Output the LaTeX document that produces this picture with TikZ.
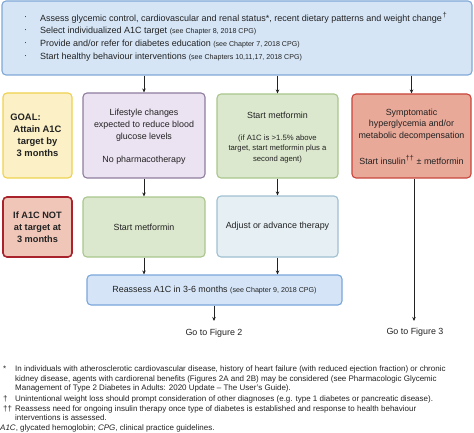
\documentclass[tikz,border=0pt]{standalone}
\usepackage{fontspec}
\setmainfont{Liberation Sans}
\usetikzlibrary{arrows.meta}
\definecolor{txt}{HTML}{222222}
\definecolor{topfill}{HTML}{D5E5F6}\definecolor{topdraw}{HTML}{7FA7D6}
\definecolor{goalfill}{HTML}{FBF0C6}\definecolor{goaldraw}{HTML}{EED24E}
\definecolor{lifefill}{HTML}{ECE3F2}\definecolor{lifedraw}{HTML}{8E7D9C}
\definecolor{greenfill}{HTML}{DCE8CE}\definecolor{greendraw}{HTML}{A8C68C}
\definecolor{symfill}{HTML}{E8A999}\definecolor{symdraw}{HTML}{C9443A}
\definecolor{notfill}{HTML}{EFC6B8}\definecolor{notdraw}{HTML}{A8232B}
\definecolor{adjfill}{HTML}{E6F0F4}\definecolor{adjdraw}{HTML}{9EC0D0}
\definecolor{reafill}{HTML}{D5E5F7}\definecolor{readraw}{HTML}{79A6DA}
\tikzset{
  box/.style={rectangle, rounded corners=4pt, line width=1.1pt, inner sep=0pt, align=center, text=txt, font=\fontsize{8.9}{12}\selectfont},
  conn/.style={draw=txt, line width=0.7pt, -{Stealth[length=4pt,width=3.5pt]}},
  plain/.style={inner sep=0pt, text=txt, anchor=west},
  fn/.style={inner sep=0pt, text=txt, anchor=west, font=\fontsize{8}{9}\selectfont},
  lbl/.style={inner sep=0pt, text=txt, font=\fontsize{8.9}{11}\selectfont},
}
\newcommand{\sm}[1]{{\fontsize{7.1}{8}\selectfont #1}}
\begin{document}
\begin{tikzpicture}[x=1pt,y=-1pt]
\useasboundingbox (0,0) rectangle (474,433);
% top box
\node[box, fill=topfill, draw=topdraw, minimum width=470pt, minimum height=74pt] (top) at (237,38) {};
\foreach \yy/\tt in {18/{Assess glycemic control, cardiovascular and renal status*, recent dietary patterns and weight change\textsuperscript{\,\sm{†}}},
  31/{Select individualized A1C target \sm{(see Chapter 8, 2018 CPG)}},
  44/{Provide and/or refer for diabetes education \sm{(see Chapter 7, 2018 CPG)}},
  57/{Start healthy behaviour interventions \sm{(see Chapters 10,11,17, 2018 CPG)}}}{
  \node[plain, font=\fontsize{9}{10}\selectfont] at (24,\yy) {·};
  \node[plain, font=\fontsize{9}{10}\selectfont] at (40,\yy) {\tt};
}
% row 1
\node[box, fill=goalfill, draw=goaldraw, minimum width=69pt, minimum height=85pt, font=\bfseries\fontsize{9.4}{12}\selectfont] (goal) at (37.5,135.5) {GOAL:\hspace*{24pt}\\Attain A1C\\target by\\3 months};
\node[box, fill=lifefill, draw=lifedraw, minimum width=122pt, minimum height=85pt] (life) at (144,135.5) {};
\node[inner sep=0pt, align=center, text=txt, font=\fontsize{8.9}{11.8}\selectfont] (lifet) at (144,125) {Lifestyle changes\\expected to reduce blood\\glucose levels};
\node[lbl] (lifen) at (144,160) {No pharmacotherapy};
\node[box, fill=greenfill, draw=greendraw, minimum width=121pt, minimum height=84pt] (met1) at (277.5,136) {};
\node[lbl] (met1t) at (277.5,115) {Start metformin};
\node[inner sep=0pt, align=center, text=txt, font=\fontsize{7.7}{10.5}\selectfont] (met1n) at (277.5,149) {(if A1C is >1.5\% above\\target, start metformin plus a\\second agent)};
\node[box, fill=symfill, draw=symdraw, minimum width=119pt, minimum height=84pt] (sym) at (411.5,136) {};
\node[inner sep=0pt, align=center, text=txt, font=\fontsize{8.9}{11.8}\selectfont] (symt) at (411.5,124.5) {Symptomatic\\hyperglycemia and/or\\metabolic decompensation};
\node[lbl] (symn) at (411.5,160) {Start insulin\textsuperscript{\sm{††}} ± metformin};
% row 2
\node[box, fill=notfill, draw=notdraw, line width=1.6pt, minimum width=69pt, minimum height=60pt, font=\bfseries\fontsize{9.2}{11.8}\selectfont] (notat) at (37.5,227) {If A1C NOT\\at target at\\3 months};
\node[box, fill=greenfill, draw=greendraw, minimum width=122pt, minimum height=60pt] (met2) at (144,227) {Start metformin};
\node[box, fill=adjfill, draw=adjdraw, minimum width=121pt, minimum height=61pt] (adj) at (277.5,226.5) {Adjust or advance therapy};
% reassess
\node[box, fill=reafill, draw=readraw, minimum width=255pt, minimum height=30pt] (rea) at (214.5,290) {Reassess A1C in 3-6 months \sm{(see Chapter 9, 2018 CPG)}};
\node[lbl] (fig2) at (214,333) {Go to Figure 2};
\node[lbl] (fig3) at (415,332) {Go to Figure 3};
\coordinate (e2) at (214,321);
\coordinate (e3) at (414,321);
% connectors
\draw[conn] (top.south -| life) -- (life.north);
\draw[conn] (top.south -| met1) -- (met1.north);
\draw[conn] (top.south -| sym) -- (sym.north);
\draw[conn] (life.south) -- (met2.north);
\draw[conn] (met1.south) -- (adj.north);
\draw[conn] (met2.south) -- (rea.north -| met2);
\draw[conn] (adj.south) -- (rea.north -| adj);
\draw[conn] (rea.south -| e2) -- (e2);
\draw[conn] (sym.south -| e3) -- (e3);
% footnotes
\node[fn] (f1s) at (3,369) {*};
\node[fn] (f1) at (15,369) {In individuals with atherosclerotic cardiovascular disease, history of heart failure (with reduced ejection fraction) or chronic};
\node[fn] (f2) at (15,379) {kidney disease, agents with cardiorenal benefits (Figures 2A and 2B) may be considered (see Pharmacologic Glycemic};
\node[fn] (f3) at (15,388.5) {Management of Type 2 Diabetes in Adults: 2020 Update – The User’s Guide).};
\node[fn] (f4s) at (3,399) {†};
\node[fn] (f4) at (15,399) {Unintentional weight loss should prompt consideration of other diagnoses (e.g. type 1 diabetes or pancreatic disease).};
\node[fn] (f5s) at (3,409) {††};
\node[fn] (f5) at (15,409) {Reassess need for ongoing insulin therapy once type of diabetes is established and response to health behaviour};
\node[fn] (f6) at (15,418) {interventions is assessed.};
\node[fn] (f7) at (0,428) {\textit{A1C}, glycated hemoglobin; \textit{CPG}, clinical practice guidelines.};
\end{tikzpicture}
\end{document}
